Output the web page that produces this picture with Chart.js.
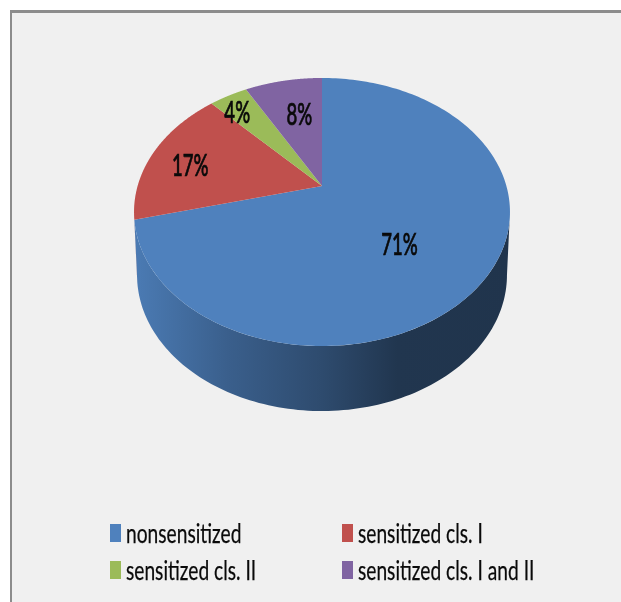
<!DOCTYPE html>
<html>
<head>
<meta charset="utf-8">
<title>Sensitization</title>
<script src="https://cdn.jsdelivr.net/npm/chart.js@4/dist/chart.umd.min.js"></script>
<style>
  html, body { margin: 0; padding: 0; background: #fff; overflow: hidden; }
  #panel {
    position: absolute; left: 10px; top: 10px; width: 620px; height: 600px;
    background: #f0f0f0; border-left: 2px solid #8c8c8c; border-top: 3px solid #8c8c8c;
  }
  #myChart { position: absolute; left: 0; top: 0; }
</style>
</head>
<body>
<div id="panel"></div>
<canvas id="myChart" width="621" height="602"></canvas>
<script>
const categories = ["nonsensitized", "sensitized cls. I", "sensitized cls. II", "sensitized cls. I and II"];
const percentages = [71, 17, 4, 8];
const colores = ["#4f81bd", "#c0504d", "#9bbb59", "#8064a2"];

// where the tilted disc sits on the page
const CX = 322, APEX_Y = 186, RX = 184.4, TILT_B = 92.9, TILT_C = -0.194;
const WALL_CY = 212, BASE_CY = 275, BASE_SX = 185 / 188, BASE_SY = 136 / 134;
const LEFT = 134, RIGHT = 510;
const labelSpots = [
  { r: 0.5, dx: 0, dy: 16 },
  { r: 0.72, dx: -9, dy: 4 },
  { r: 0.82, dx: -6, dy: 2 },
  { r: 0.65, dx: 4, dy: 0 },
];
const legendSpots = [{ x: 110, y: 524 }, { x: 342, y: 524 }, { x: 110, y: 561 }, { x: 342, y: 561 }];

function topPoint(angle, r) {
  const ux = Math.cos(angle) * r, uy = Math.sin(angle) * r;
  const w = 1 + TILT_C * uy;
  return { x: CX + RX * ux / w, y: (APEX_Y + TILT_B * uy) / w };
}

function basePoint(angle) {
  const p = topPoint(angle, 1);
  return { x: CX + (p.x - CX) * BASE_SX, y: BASE_CY + (p.y - WALL_CY) * BASE_SY };
}

function wallGradient(ctx, hex) {
  const r = parseInt(hex.slice(1, 3), 16), g = parseInt(hex.slice(3, 5), 16), b = parseInt(hex.slice(5, 7), 16);
  const grad = ctx.createLinearGradient(LEFT, 0, RIGHT, 0);
  [[0, 0.95], [0.25, 0.74], [0.5, 0.58], [0.7, 0.42], [1, 0.4]].forEach(function (s) {
    grad.addColorStop(s[0], "rgb(" + r * s[1] + "," + g * s[1] + "," + b * s[1] + ")");
  });
  return grad;
}

function drawWall(ctx, arc, color) {
  // only the front of the disc shows its side
  const from = Math.max(arc.startAngle, 0.195);
  const to = Math.min(arc.endAngle, Math.PI - 0.195);
  if (to <= from) return;
  ctx.beginPath();
  for (let i = 0; i <= 120; i++) {
    const p = topPoint(from + (to - from) * i / 120, 1);
    ctx.lineTo(p.x, p.y);
  }
  for (let i = 120; i >= 0; i--) {
    const p = basePoint(from + (to - from) * i / 120);
    ctx.lineTo(p.x, p.y);
  }
  ctx.closePath();
  ctx.fillStyle = wallGradient(ctx, color);
  ctx.fill();
}

function drawSlice(ctx, arc, color) {
  const apex = topPoint(0, 0);
  ctx.beginPath();
  ctx.moveTo(apex.x, apex.y);
  for (let i = 0; i <= 200; i++) {
    const p = topPoint(arc.startAngle + (arc.endAngle - arc.startAngle) * i / 200, 1);
    ctx.lineTo(p.x, p.y);
  }
  ctx.closePath();
  ctx.fillStyle = color;
  ctx.fill();
}

function squeezedText(ctx, text, x, y, font, sx, align, heavy) {
  ctx.save();
  ctx.translate(x, y);
  ctx.scale(sx, 1);
  ctx.font = font;
  ctx.fillStyle = "#0a0a0a";
  ctx.strokeStyle = "#0a0a0a";
  ctx.lineWidth = heavy;
  ctx.textAlign = align;
  ctx.textBaseline = "alphabetic";
  ctx.fillText(text, 0, 0);
  ctx.strokeText(text, 0, 0);
  ctx.restore();
}

const tiltedPie = {
  id: "tiltedPie",
  beforeDatasetsDraw(chart) {
    const ctx = chart.ctx;
    const arcs = chart.getDatasetMeta(0).data;
    const fills = chart.data.datasets[0].backgroundColor;
    ctx.save();
    ctx.filter = "blur(0.5px)";
    arcs.forEach((arc, i) => drawWall(ctx, arc, fills[i]));
    arcs.forEach((arc, i) => drawSlice(ctx, arc, fills[i]));
    arcs.forEach((arc, i) => {
      const mid = (arc.startAngle + arc.endAngle) / 2;
      const spot = labelSpots[i];
      const p = topPoint(mid, spot.r);
      squeezedText(ctx, percentages[i] + "%", p.x + spot.dx, p.y + spot.dy + 11, "500 30px Lato", 0.62, "center", 0.7);
    });
    categories.forEach((name, i) => {
      const spot = legendSpots[i];
      ctx.fillStyle = fills[i];
      ctx.fillRect(spot.x, spot.y, 11, 18);
      squeezedText(ctx, name, spot.x + 16, spot.y + 19, "27px Lato", 0.71, "left", 0.25);
    });
    ctx.restore();
    return false;
  },
};

new Chart(document.getElementById("myChart").getContext("2d"), {
  type: "pie",
  data: {
    labels: categories,
    datasets: [{ data: percentages, backgroundColor: colores, borderWidth: 0 }],
  },
  options: {
    responsive: false,
    animation: false,
    devicePixelRatio: 1,
    plugins: { legend: { display: false }, tooltip: { enabled: false } },
  },
  plugins: [tiltedPie],
});
</script>
</body>
</html>
